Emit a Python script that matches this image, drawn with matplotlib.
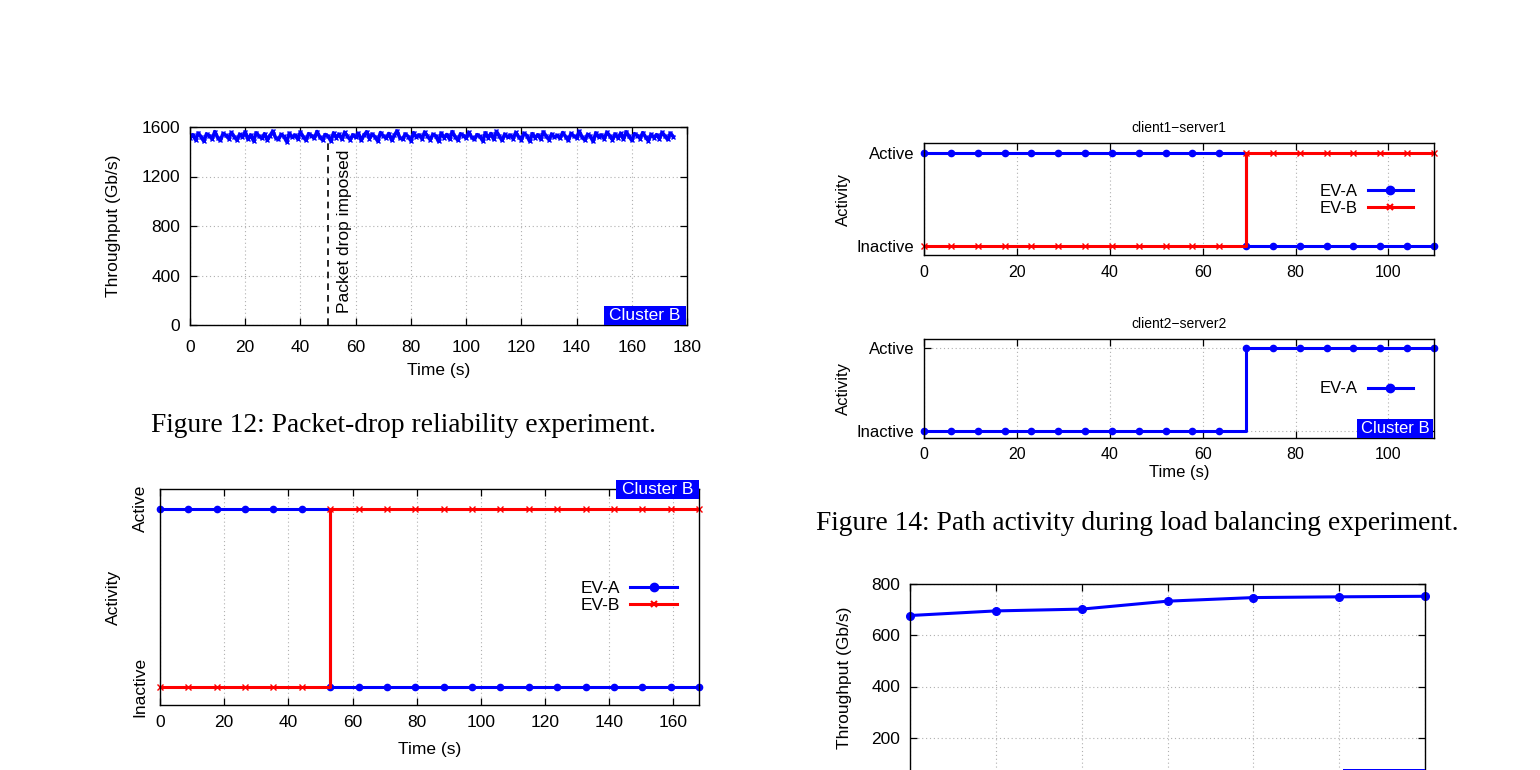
# page of gnuplot-style figures: packet drop, path activity, failover, scaling

import numpy as np
import matplotlib.pyplot as plt
from matplotlib.patches import Rectangle
from matplotlib.lines import Line2D

plt.rcParams['font.family'] = ['Liberation Sans', 'DejaVu Sans']

W, H = 1540, 770
BLUE = '#0000ff'
RED = '#ff0000'

# ---- data ----
# fig 12: throughput during packet-drop test, one sample per second
thr_gbps = [1512, 1538, 1497, 1551, 1520, 1486, 1544, 1529, 1503, 1562, 1515, 1491, 1548, 1533, 1507, 1556, 1522, 1495, 1541, 1518,
            1560, 1500, 1536, 1489, 1553, 1526, 1509, 1545, 1494, 1531, 1566, 1513, 1499, 1540, 1524, 1482, 1550, 1517, 1535, 1504,
            1558, 1521, 1493, 1546, 1530, 1508, 1563, 1519, 1496, 1539, 1527, 1488, 1552, 1514, 1542, 1501, 1557, 1525, 1498, 1537,
            1516, 1549, 1492, 1534, 1561, 1506, 1543, 1520, 1487, 1555, 1528, 1510, 1547, 1495, 1532, 1568, 1511, 1502, 1544, 1523,
            1490, 1554, 1518, 1536, 1505, 1559, 1526, 1497, 1541, 1529, 1484, 1551, 1515, 1539, 1503, 1562, 1522, 1494, 1545, 1531,
            1509, 1557, 1517, 1499, 1538, 1524, 1489, 1553, 1513, 1547, 1500, 1564, 1527, 1492, 1542, 1519, 1535, 1506, 1556, 1521,
            1496, 1550, 1530, 1486, 1546, 1514, 1537, 1502, 1560, 1525, 1498, 1543, 1516, 1533, 1508, 1555, 1523, 1491, 1548, 1528,
            1511, 1565, 1518, 1495, 1540, 1526, 1483, 1552, 1520, 1536, 1504, 1558, 1529, 1497, 1544, 1512, 1549, 1501, 1561, 1524,
            1493, 1546, 1531, 1507, 1554, 1519, 1488, 1541, 1515, 1538, 1505, 1557, 1527, 1499, 1551, 1522]
thr_time = np.arange(len(thr_gbps)) * 1.0
drop_time = 50
drop_top = 1470

# fig 14: path activity (1 = Active, 0 = Inactive)
lb_time = np.arange(20) * 5.78
lb1_ev_a = [1, 1, 1, 1, 1, 1, 1, 1, 1, 1, 1, 1, 0, 0, 0, 0, 0, 0, 0, 0]
lb1_ev_b = [0, 0, 0, 0, 0, 0, 0, 0, 0, 0, 0, 0, 1, 1, 1, 1, 1, 1, 1, 1]
lb2_ev_a = [0, 0, 0, 0, 0, 0, 0, 0, 0, 0, 0, 0, 1, 1, 1, 1, 1, 1, 1, 1]

# fig 13: failover activity
fo_time = np.arange(20) * 8.84
fo_ev_a = [1, 1, 1, 1, 1, 1, 0, 0, 0, 0, 0, 0, 0, 0, 0, 0, 0, 0, 0, 0]
fo_ev_b = [0, 0, 0, 0, 0, 0, 1, 1, 1, 1, 1, 1, 1, 1, 1, 1, 1, 1, 1, 1]

# bottom right: throughput per step (cut off by the page)
sc_x = [0, 1, 2, 3, 4, 5, 6]
sc_thr = [677, 695, 702, 733, 747, 750, 752]
sc_yticks = [0, 200, 400, 600, 800]
sc_ylabels = ['', '200', '400', '600', '800']   # "0" falls below the page edge

state_ticks = [0, 1]
state_labels = ['Inactive', 'Active']

fig = plt.figure(figsize=(15.4, 7.7), dpi=100)


def axes_px(left, top, right, bottom):
    return fig.add_axes([left / W, 1 - bottom / H, (right - left) / W, (bottom - top) / H])


def style(ax, size, xpad=6, ypad=7):
    ax.tick_params(direction='in', top=True, right=True, length=5, width=0.9, labelsize=size)
    ax.tick_params(axis='x', pad=xpad)
    ax.tick_params(axis='y', pad=ypad)
    ax.grid(True, color='#b0b0b0', linestyle=(0, (1, 2.5)), linewidth=0.8)
    for s in ax.spines.values():
        s.set_linewidth(1)


def cluster_box(left, top, right, bottom, size, label=True):
    fig.add_artist(Rectangle((left / W, 1 - bottom / H), (right - left) / W, (bottom - top) / H,
                             transform=fig.transFigure, facecolor=BLUE, edgecolor='none', zorder=5))
    if label:
        fig.text((left + right) / 2 / W, 1 - (top + bottom) / 2 / H, 'Cluster B', color='white',
                 ha='center', va='center', fontsize=size, zorder=6)


def activity(ax, t, series):
    for vals, col, mk in series:
        if mk == 'o':
            ax.plot(t, vals, drawstyle='steps-post', color=col, lw=2.2, marker='o', ms=4.5, clip_on=False)
        else:
            ax.plot(t, vals, drawstyle='steps-post', color=col, lw=2.2, marker='x', ms=4.5, mew=1.0, clip_on=False)
    ax.set_xlim(t[0], t[-1])
    ax.set_yticks(state_ticks)
    ax.set_yticklabels(state_labels)


def legend(ax, items, pos, size):
    hs = []
    for name, col, mk in items:
        if mk == 'o':
            hs.append(Line2D([], [], color=col, lw=2.2, marker='o', ms=6, label=name))
        else:
            hs.append(Line2D([], [], color=col, lw=2.2, marker='x', ms=5, mew=1.5, label=name))
    ax.legend(handles=hs, loc='center', bbox_to_anchor=pos, frameon=False, markerfirst=False,
              fontsize=size, handlelength=2.7, handletextpad=0.6, labelspacing=0.1,
              borderpad=0, numpoints=1)


# ---- figure 12 ----
ax1 = axes_px(190, 127, 687, 325)
style(ax1, 12.5, xpad=10.5)
ax1.plot(thr_time, thr_gbps, color=BLUE, lw=2.6, marker='x', ms=3, mew=1.0)
ax1.vlines(drop_time, 0, drop_top, colors='black', linestyles=(0, (4, 3)), lw=1.2)
ax1.text(drop_time + 6, 100, 'Packet drop imposed', rotation=90, ha='center', va='bottom', fontsize=12.5)
ax1.set_xlim(0, 180)
ax1.set_ylim(0, 1600)
ax1.set_xticks(range(0, 181, 20))
ax1.set_yticks(range(0, 1601, 400))
ax1.set_xlabel('Time (s)', fontsize=12.5)
ax1.set_ylabel('Throughput (Gb/s)', fontsize=12.5)
ax1.xaxis.set_label_coords(0.5, -0.19)
ax1.yaxis.set_label_coords(-0.139, 0.5)
cluster_box(604, 306, 686, 325, 12.5)
fig.text(404 / W, 1 - 425 / H, 'Figure 12: Packet-drop reliability experiment.',
         family='Liberation Serif', fontsize=19.8, ha='center', va='center')

# ---- figure 14, top ----
ax2 = axes_px(924, 143, 1434, 255)
style(ax2, 11.5, xpad=7.5)
activity(ax2, lb_time, [(lb1_ev_a, BLUE, 'o'), (lb1_ev_b, RED, 'x')])
ax2.set_ylim(-0.1, 1.11)
ax2.set_xticks(range(0, 101, 20))
ax2.set_title('client1\u2212server1', fontsize=10, pad=8)
ax2.set_ylabel('Activity', fontsize=12)
ax2.yaxis.set_label_coords(-0.143, 0.5)
ax2.tick_params(axis='y', labelsize=12)
legend(ax2, [('EV-A', BLUE, 'o'), ('EV-B', RED, 'x')], (0.867, 0.49), 12)

# ---- figure 14, bottom ----
ax3 = axes_px(924, 339, 1434, 438)
style(ax3, 11.5, xpad=6.5)
activity(ax3, lb_time, [(lb2_ev_a, BLUE, 'o')])
ax3.set_ylim(-0.085, 1.108)
ax3.set_xticks(range(0, 101, 20))
ax3.set_title('client2\u2212server2', fontsize=10, pad=8)
ax3.set_ylabel('Activity', fontsize=12)
ax3.yaxis.set_label_coords(-0.143, 0.5)
ax3.tick_params(axis='y', labelsize=12)
ax3.set_xlabel('Time (s)', fontsize=12)
ax3.xaxis.set_label_coords(0.5, -0.27)
legend(ax3, [('EV-A', BLUE, 'o')], (0.867, 0.495), 12)
cluster_box(1357, 419, 1433, 438, 12)
fig.text(1137 / W, 1 - 524 / H, 'Figure 14: Path activity during load balancing experiment.',
         family='Liberation Serif', fontsize=19.8, ha='center', va='center')

# ---- failover (bottom left) ----
ax4 = axes_px(160, 489, 699, 705)
style(ax4, 12.5, xpad=7, ypad=9)
activity(ax4, fo_time, [(fo_ev_a, BLUE, 'o'), (fo_ev_b, RED, 'x')])
ax4.set_ylim(-0.1, 1.11)
ax4.set_xticks(range(0, 161, 20))
for lab in ax4.get_yticklabels():
    lab.set_rotation(90)
    lab.set_va('center')
ax4.set_ylabel('Activity', fontsize=12.5)
ax4.yaxis.set_label_coords(-0.072, 0.5)
ax4.set_xlabel('Time (s)', fontsize=12.5)
ax4.xaxis.set_label_coords(0.5, -0.17)
legend(ax4, [('EV-A', BLUE, 'o'), ('EV-B', RED, 'x')], (0.87, 0.50), 12.5)
cluster_box(616, 480, 699, 499, 12.5)

# ---- scaling (bottom right, cut by page edge) ----
ax5 = axes_px(910, 584, 1425, 789)
style(ax5, 12.5)
ax5.plot(sc_x, sc_thr, color=BLUE, lw=2.2, marker='o', ms=5.5, clip_on=False)
ax5.set_xlim(0, 6)
ax5.set_ylim(0, 800)
ax5.set_xticks(sc_x)
ax5.tick_params(axis='x', labelbottom=False)
ax5.set_yticks(sc_yticks)
ax5.set_yticklabels(sc_ylabels)
ax5.set_ylabel('Throughput (Gb/s)', fontsize=12.5)
ax5.yaxis.set_label_coords(-0.113, 0.54)
cluster_box(1343, 769, 1425, 789, 12.5, label=False)

fig.savefig('out.png', dpi=100)
